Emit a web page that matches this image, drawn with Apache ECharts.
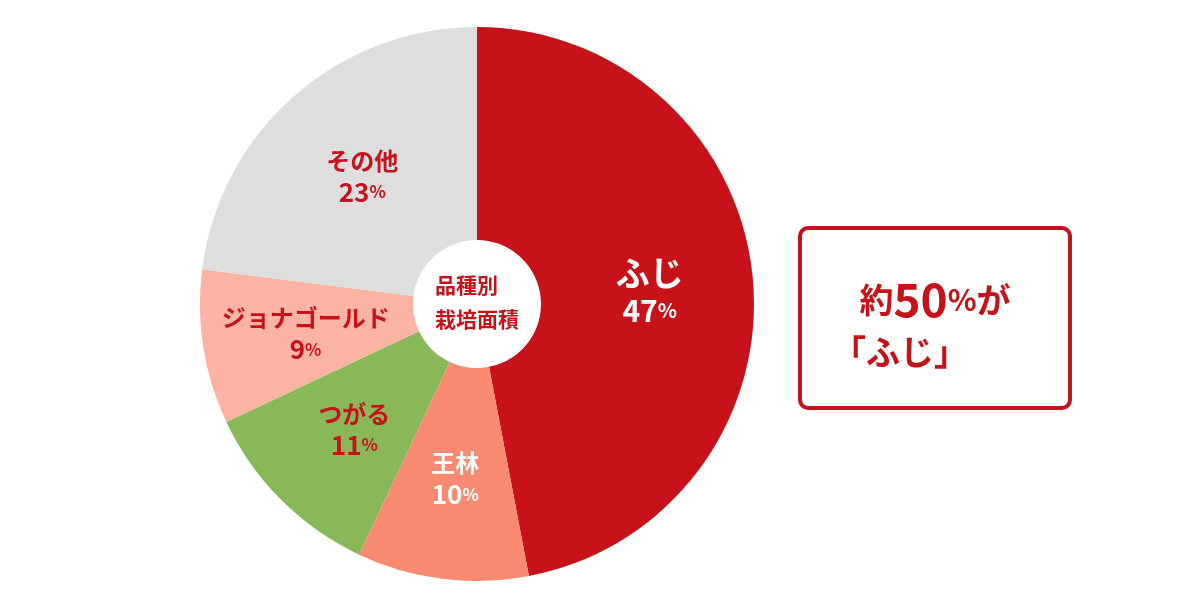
<!DOCTYPE html>
<html><head><meta charset="utf-8">
<script src="https://cdn.jsdelivr.net/npm/echarts@6/dist/echarts.min.js"></script>
<style>html,body{margin:0;padding:0;background:#fff}#c{width:1200px;height:609px}</style>
</head><body><div id="c"></div>
<script>
const categories = ['ふじ','王林','つがる','ジョナゴールド','その他'];
const values = [47,10,11,9,23];
const colors = ['#c8121a','#f98a72','#88b858','#fbb3a3','#dedede'];
const labelColors = ['#fff','#fff','#c8121a','#c8121a','#c8121a'];
const F = '"Noto Sans CJK JP", sans-serif';
const chart = echarts.init(document.getElementById('c'));
chart.setOption({
  animation:false,
  series:[{
    type:'pie', center:[477,304], radius:[64,277], startAngle:90, clockwise:true,
    data: categories.map((n,i)=>({name:n,value:values[i],itemStyle:{color:colors[i]},
      label:{rich:{n:{fontSize:i==0?34:24,fontWeight:'bold',color:labelColors[i],fontFamily:F,lineHeight:i==0?46:36},
                   v:{fontSize:i==0?30:26,fontWeight:'bold',color:labelColors[i],fontFamily:F},
                   p:{fontSize:i==0?20:17,fontWeight:'bold',color:labelColors[i],fontFamily:F}}}})),
    label:{show:true,position:'inside',formatter:p=>'{n|'+p.name+'}\n{v|'+p.value+'}{p|%}'},
    labelLine:{show:false},
    itemStyle:{borderWidth:0}
  }],
  graphic:[
    {type:'text',left:477-42,top:304-36,style:{text:'品種別\n栽培面積',fill:'#c8121a',font:'bold 21px '+F,lineHeight:34,align:'center'},x:0},
    {type:'rect',shape:{x:800,y:228,width:270,height:180,r:8},style:{fill:'#fff',stroke:'#c8121a',lineWidth:4}},
    {type:'text',style:{x:935,y:300,text:'{a|約}{b|50}{c|%}{a|が}',align:'center',verticalAlign:'middle',
      rich:{a:{fontSize:34,fontWeight:'bold',fill:'#c8121a',fontFamily:F},b:{fontSize:46,fontWeight:'bold',fill:'#c8121a',fontFamily:F},c:{fontSize:30,fontWeight:'bold',fill:'#c8121a',fontFamily:F}}}},
    {type:'text',style:{x:900,y:352,text:'「ふじ」',align:'center',verticalAlign:'middle',font:'bold 34px '+F,fill:'#c8121a'}}
  ]
});
</script></body></html>
